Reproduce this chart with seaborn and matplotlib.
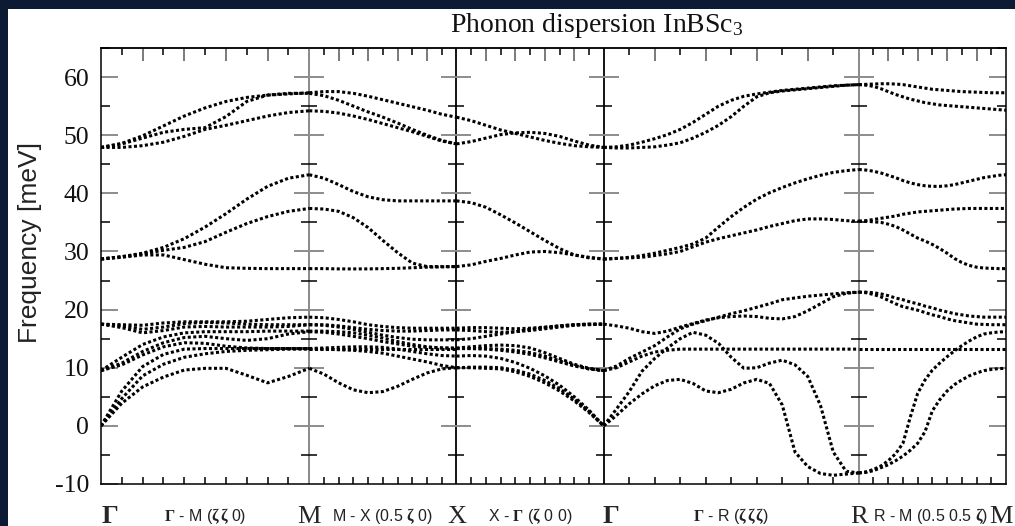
import numpy as np
import pandas as pd
import seaborn as sns
import matplotlib.pyplot as plt
import matplotlib.transforms as mtransforms
from matplotlib.patches import Rectangle
from matplotlib.ticker import MultipleLocator, FixedLocator, NullLocator

# high-symmetry path Gamma-M-X-Gamma-R-M, segment lengths in units of 2pi/a
point_labels = [r'$\mathbf{\Gamma}$', 'M', 'X', r'$\mathbf{\Gamma}$', 'R', 'M']
seg_lengths = [np.sqrt(2) / 2, 0.5, 0.5, np.sqrt(3) / 2, 0.5]
seg_labels = [r'$\mathbf{\Gamma}$ - M ($\mathbf{\zeta\,\zeta}$ 0)',
              r'M - X (0.5 $\mathbf{\zeta}$ 0)',
              r'X - $\mathbf{\Gamma}$ ($\mathbf{\zeta}$ 0 0)',
              r'$\mathbf{\Gamma}$ - R ($\mathbf{\zeta\,\zeta\,\zeta}$)',
              r'R - M (0.5 0.5 $\mathbf{\zeta}$)']

t_coarse = np.linspace(0, 1, 11)
t_fine = np.linspace(0, 1, 21)

# frequencies in meV
gm_bands = [
    [0, 3.9, 6.7, 8.4, 9.6, 9.9, 9.9, 8.7, 7.4, 8.5, 9.9],
    [0, 4.7, 8.6, 10.6, 11.8, 12.4, 12.8, 13.0, 13.1, 13.2, 13.2],
    [0, 6.0, 10.2, 12.3, 13.2, 13.3, 13.3, 13.3, 13.3, 13.3, 13.3],
    [9.5, 10.5, 12.2, 13.6, 14.3, 14.2, 13.7, 13.4, 13.3, 13.3, 13.3],
    [9.5, 10.8, 12.8, 14.3, 15.2, 15.4, 15.0, 14.7, 15.0, 15.8, 16.2],
    [9.5, 11.8, 14.0, 15.3, 16.0, 16.2, 16.2, 16.2, 16.3, 16.3, 16.3],
    [17.5, 16.9, 16.0, 16.4, 17.0, 17.1, 17.0, 17.0, 17.0, 17.1, 17.4],
    [17.5, 17.2, 16.6, 17.0, 17.6, 17.8, 17.7, 17.5, 17.4, 17.4, 17.4],
    [17.5, 17.4, 17.3, 17.7, 17.9, 17.9, 17.9, 18.0, 18.3, 18.6, 18.7],
    [28.7, 29.0, 29.4, 29.4, 28.6, 27.8, 27.2, 27.1, 27.05, 27.05, 27.05],
    [28.7, 29.1, 29.6, 30.2, 30.7, 31.7, 33.3, 34.8, 36.0, 36.9, 37.4],
    [28.7, 29.1, 29.7, 30.7, 32.2, 34.2, 36.5, 39.0, 41.2, 42.6, 43.2],
    [47.9, 47.9, 48.2, 48.8, 49.8, 51.0, 51.7, 52.5, 53.3, 53.9, 54.2],
    [47.9, 48.5, 49.5, 50.5, 51.0, 51.3, 53.2, 55.8, 56.9, 57.2, 57.2],
    [47.9, 48.6, 49.9, 51.6, 53.3, 54.7, 55.8, 56.5, 56.9, 57.1, 57.3],
]

mx_bands = [
    [9.9, 8.9, 7.4, 6.2, 5.7, 5.9, 6.8, 8.0, 9.1, 9.8, 10.0],
    [13.2, 13.2, 13.1, 13.0, 12.8, 12.5, 12.0, 11.5, 11.0, 10.4, 10.0],
    [13.3, 13.3, 13.3, 13.3, 13.3, 13.3, 13.3, 13.3, 13.3, 13.3, 13.3],
    [13.3, 13.4, 13.5, 13.6, 13.6, 13.5, 13.2, 12.8, 12.4, 12.1, 12.0],
    [16.2, 16.1, 15.8, 15.4, 15.0, 14.5, 14.1, 13.7, 13.5, 13.4, 13.3],
    [16.3, 16.3, 16.2, 16.0, 15.6, 15.1, 14.5, 14.0, 13.6, 13.4, 13.4],
    [17.4, 17.3, 17.0, 16.6, 16.1, 15.6, 15.2, 14.9, 14.8, 14.8, 14.8],
    [17.4, 17.4, 17.2, 16.9, 16.6, 16.4, 16.3, 16.3, 16.4, 16.5, 16.5],
    [18.7, 18.6, 18.3, 17.9, 17.4, 17.1, 16.9, 16.8, 16.8, 16.8, 16.8],
    [27.05, 27.05, 27.0, 27.0, 27.0, 27.05, 27.1, 27.2, 27.3, 27.35, 27.4],
    [37.4, 37.3, 36.9, 35.8, 34.1, 31.9, 29.8, 28.0, 27.4, 27.4, 27.4],
    [43.2, 42.6, 41.5, 40.3, 39.4, 38.9, 38.7, 38.7, 38.7, 38.7, 38.7],
    [54.2, 54.1, 53.8, 53.3, 52.7, 52.0, 51.3, 50.6, 49.8, 49.0, 48.5],
    [57.2, 56.8, 56.0, 55.0, 54.0, 53.1, 52.1, 51.0, 50.0, 49.1, 48.5],
    [57.3, 57.5, 57.5, 57.2, 56.7, 56.1, 55.5, 54.9, 54.3, 53.6, 53.1],
]

xg_bands = [
    [10.0, 10.0, 9.9, 9.8, 9.3, 8.5, 7.4, 6.0, 4.3, 2.3, 0],
    [10.0, 10.1, 10.1, 10.0, 9.6, 8.9, 7.8, 6.4, 4.6, 2.5, 0],
    [12.0, 12.1, 12.0, 11.6, 10.9, 9.9, 8.6, 7.0, 5.0, 2.7, 0],
    [13.3, 13.3, 13.3, 13.2, 13.0, 12.6, 12.0, 11.2, 10.4, 9.8, 9.5],
    [13.3, 13.3, 13.2, 13.0, 12.7, 12.3, 11.7, 11.0, 10.3, 9.8, 9.5],
    [13.4, 13.6, 13.8, 13.9, 13.8, 13.4, 12.6, 11.6, 10.6, 9.9, 9.5],
    [14.8, 15.0, 15.4, 15.8, 16.2, 16.6, 16.9, 17.2, 17.4, 17.5, 17.5],
    [16.5, 16.4, 16.2, 16.1, 16.2, 16.4, 16.7, 17.0, 17.3, 17.4, 17.5],
    [16.8, 16.9, 16.9, 16.8, 16.7, 16.8, 17.0, 17.2, 17.4, 17.5, 17.5],
    [27.4, 27.7, 28.3, 28.8, 29.4, 29.9, 30.0, 29.8, 29.4, 29.0, 28.7],
    [38.7, 38.4, 37.6, 36.3, 34.9, 33.4, 31.9, 30.5, 29.4, 28.9, 28.7],
    [48.5, 48.9, 49.5, 50.1, 50.4, 50.5, 50.3, 49.8, 49.0, 48.3, 47.9],
    [53.1, 52.5, 51.7, 50.9, 50.3, 49.7, 49.1, 48.6, 48.2, 48.0, 47.9],
]

gr_bands = [
    [0, 1.8, 3.8, 5.5, 6.9, 7.8, 8.0, 7.3, 6.0, 5.7, 6.3, 7.4, 8.0, 7.3, 3.6, -4.5, -7.0, -8.2, -8.5, -8.3, -8.1],
    [0, 2.9, 5.9, 9.4, 11.6, 13.4, 15.0, 16.1, 15.6, 14.2, 11.8, 9.9, 10.0, 10.8, 11.3, 10.5, 8.5, 3.5, -4.5, -7.8, -8.1],
    [9.5, 10.0, 11.0, 12.0, 12.7, 13.0, 13.2, 13.2, 13.2, 13.2, 13.2, 13.2, 13.2, 13.2, 13.2, 13.2, 13.2, 13.2, 13.2, 13.2, 13.2],
    [9.5, 10.3, 11.6, 12.7, 13.8, 15.3, 16.7, 17.5, 18.1, 18.7, 19.3, 19.8, 20.4, 21.0, 21.7, 22.0, 22.3, 22.5, 22.7, 22.9, 23.0],
    [17.5, 17.2, 16.8, 16.2, 15.9, 16.3, 17.0, 17.6, 18.2, 18.6, 18.8, 18.9, 18.8, 18.5, 18.4, 18.8, 19.8, 21.0, 22.2, 22.8, 23.0],
    [28.7, 28.8, 28.9, 29.0, 29.3, 29.6, 30.0, 30.8, 31.6, 32.2, 32.7, 33.2, 33.7, 34.3, 34.8, 35.3, 35.6, 35.6, 35.5, 35.3, 35.2],
    [28.7, 28.8, 29.0, 29.3, 29.7, 30.2, 30.7, 31.3, 32.3, 34.2, 36.0, 37.6, 39.0, 40.1, 41.0, 41.8, 42.5, 43.1, 43.6, 43.9, 44.1],
    [47.9, 47.8, 47.8, 47.9, 48.0, 48.3, 48.7, 49.5, 50.5, 51.7, 53.2, 55.0, 56.6, 57.3, 57.6, 57.8, 58.0, 58.2, 58.4, 58.6, 58.7],
    [47.9, 48.0, 48.3, 48.8, 49.4, 50.1, 51.0, 52.2, 53.6, 55.0, 56.0, 56.7, 57.1, 57.4, 57.7, 57.9, 58.1, 58.3, 58.5, 58.6, 58.7],
]

rm_bands = [
    [-8.1, -8.0, -7.7, -7.2, -6.7, -6.0, -5.2, -4.2, -3.0, -1.0, 2.6, 4.5, 6.0, 7.1, 7.9, 8.6, 9.1, 9.5, 9.7, 9.85, 9.9],
    [-8.1, -7.9, -7.5, -6.9, -6.0, -4.8, -3.0, 1.5, 5.6, 7.9, 9.6, 10.8, 11.9, 12.9, 13.8, 14.6, 15.3, 15.8, 16.0, 16.15, 16.2],
    [13.2, 13.2, 13.2, 13.2, 13.2, 13.2, 13.2, 13.2, 13.2, 13.2, 13.2, 13.2, 13.2, 13.2, 13.2, 13.2, 13.2, 13.2, 13.2, 13.2, 13.2],
    [23.0, 22.9, 22.6, 22.2, 21.6, 21.0, 20.5, 20.2, 19.9, 19.5, 19.1, 18.8, 18.4, 18.1, 17.9, 17.7, 17.5, 17.45, 17.4, 17.4, 17.4],
    [23.0, 23.0, 22.9, 22.7, 22.4, 22.0, 21.7, 21.3, 21.0, 20.6, 20.3, 19.9, 19.6, 19.3, 19.1, 18.9, 18.8, 18.7, 18.7, 18.7, 18.7],
    [35.2, 35.2, 35.1, 35.0, 34.7, 34.3, 33.7, 33.0, 32.3, 31.8, 31.2, 30.5, 29.7, 28.8, 28.1, 27.6, 27.3, 27.15, 27.1, 27.05, 27.05],
    [35.2, 35.3, 35.5, 35.7, 35.9, 36.1, 36.4, 36.6, 36.8, 36.9, 37.0, 37.1, 37.2, 37.3, 37.35, 37.4, 37.4, 37.4, 37.4, 37.4, 37.4],
    [44.1, 44.0, 43.8, 43.5, 43.1, 42.7, 42.2, 41.8, 41.5, 41.3, 41.2, 41.2, 41.3, 41.5, 41.8, 42.1, 42.4, 42.7, 42.9, 43.1, 43.2],
    [58.7, 58.6, 58.4, 58.0, 57.5, 57.0, 56.6, 56.2, 55.9, 55.6, 55.4, 55.2, 55.1, 55.0, 54.9, 54.8, 54.7, 54.6, 54.5, 54.4, 54.3],
    [58.7, 58.75, 58.8, 58.85, 58.85, 58.8, 58.7, 58.5, 58.3, 58.1, 57.9, 57.8, 57.7, 57.6, 57.5, 57.45, 57.4, 57.35, 57.3, 57.3, 57.3],
]

# long-form table for seaborn
k_nodes = np.concatenate([[0], np.cumsum(seg_lengths)])
segments = [(gm_bands, t_coarse), (mx_bands, t_coarse), (xg_bands, t_coarse),
            (gr_bands, t_fine), (rm_bands, t_fine)]
frames = []
for s, (bands, t) in enumerate(segments):
    k = k_nodes[s] + t * seg_lengths[s]
    for b, freq in enumerate(bands):
        frames.append(pd.DataFrame({'k': k, 'freq': freq, 'branch': f'{s}-{b}'}))
df = pd.concat(frames, ignore_index=True)

sns.set_theme(style='white')
plt.rcParams['axes.unicode_minus'] = False
plt.rcParams['mathtext.fontset'] = 'custom'
plt.rcParams['mathtext.rm'] = 'Liberation Serif'
plt.rcParams['mathtext.it'] = 'Liberation Serif:italic'
plt.rcParams['mathtext.bf'] = 'Liberation Serif:bold'
plt.rcParams['font.family'] = ['Liberation Serif', 'DejaVu Serif']

W, H = 1015, 526
fig = plt.figure(figsize=(W / 100, H / 100), dpi=100, facecolor='#0d1a33')
fig.patches.append(Rectangle((8 / W, 0), 1, (H - 9) / H, transform=fig.transFigure,
                             facecolor='white', edgecolor='none', zorder=-5))
ax = fig.add_axes([101 / W, 42 / H, 905 / W, 436 / H])
ax.set_facecolor('white')

sns.lineplot(data=df, x='k', y='freq', units='branch', estimator=None, sort=False,
             color='black', linewidth=2.2, ax=ax, legend=False)
for ln in ax.lines:
    ln.set_linestyle((0, (1, 0.8)))

ax.set_xlim(k_nodes[0], k_nodes[-1])
ax.set_ylim(-10, 65)
ax.set_xlabel('')

# vertical lines at the symmetry points, with tick crosses on them
px = k_nodes[-1] / 905
for kx, c in zip(k_nodes[1:-1], ['#808080', 'black', 'black', '#808080']):
    ax.axvline(kx, color=c, lw=1.3, zorder=1)
    ax.hlines(np.arange(0, 61, 10), kx - 15 * px, kx + 15 * px, colors='#8c8c8c', lw=1.4, zorder=1)
    ax.hlines(np.arange(-5, 60, 10), kx - 8 * px, kx + 8 * px, colors='black', lw=1.1, zorder=1)

# y axis
ax.yaxis.set_major_locator(MultipleLocator(10))
ax.yaxis.set_minor_locator(MultipleLocator(5))
ax.tick_params(axis='y', which='major', direction='in', length=12, width=1.4, color='#8c8c8c',
               left=True, right=True, labelsize=18.5, pad=8.5, labelcolor='#111111')
ax.tick_params(axis='y', which='minor', direction='in', length=6.5, width=1.1, color='black',
               left=True, right=True)
for lab in ax.get_yticklabels():
    lab.set_fontfamily('Liberation Serif')
ax.set_ylabel('Frequency [meV]', family='Liberation Sans', fontsize=19, color='#222222')
ax.yaxis.set_label_coords(-0.065, 0.555)

# x ticks: ten steps per segment
bottom_ticks, top_major, top_minor = [], [], []
for s in range(len(seg_lengths)):
    for j in range(1, 10):
        kk = k_nodes[s] + j / 10 * seg_lengths[s]
        bottom_ticks.append(kk)
        (top_major if j % 2 == 0 else top_minor).append(kk)
ax.xaxis.set_major_locator(NullLocator())
ax.xaxis.set_minor_locator(FixedLocator(bottom_ticks))
ax.tick_params(axis='x', which='minor', direction='in', length=5, width=1.1, color='black',
               bottom=True, top=False)
secax = ax.secondary_xaxis('top')
secax.set_xticks(top_major)
secax.set_xticks(top_minor, minor=True)
secax.tick_params(which='major', direction='in', length=9.4, width=1.3, color='#707070', labeltop=False)
secax.tick_params(which='minor', direction='in', length=5, width=1.1, color='black')
secax.spines['top'].set_linewidth(1.1)

for sp in ax.spines.values():
    sp.set_color('black')
    sp.set_linewidth(1.1)

# point and segment labels under the axis
trans = mtransforms.blended_transform_factory(ax.transData, fig.transFigure)
for i, (kx, lab) in enumerate(zip(k_nodes, point_labels)):
    xx, ha = kx, 'center'
    if 'Gamma' in lab:
        ha = 'left'
        xx = kx - (0.006 if kx > 0 else 0)
    if i == len(k_nodes) - 1:
        ha = 'right'
        xx = kx + 7 * px
    ax.text(xx, 3 / H, lab, transform=trans, ha=ha, va='baseline', fontsize=19,
            family='Liberation Serif', clip_on=False)
for s, lab in enumerate(seg_labels):
    xx, ha = k_nodes[s] + seg_lengths[s] / 2, 'center'
    if s == len(seg_labels) - 1:
        xx, ha = k_nodes[s] + 14 * px, 'left'
    ax.text(xx, 5 / H, lab, transform=trans, ha=ha, va='baseline', fontsize=11.5,
            family='Liberation Sans', color='#222222', clip_on=False)

fig.text(450 / W, (H - 32) / H, 'Phonon dispersion InBSc$_3$', family='Liberation Serif',
         fontsize=20, ha='left', va='baseline', color='#111111')

fig.savefig('out.png', dpi=100, facecolor=fig.get_facecolor())
